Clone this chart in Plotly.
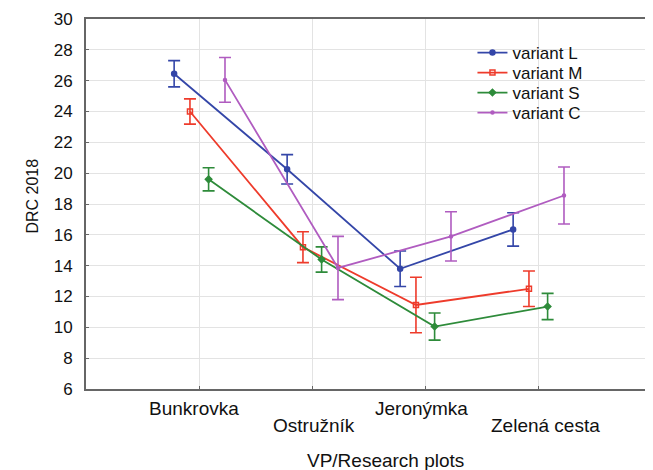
import plotly.graph_objects as go

categories = ["Bunkrovka", "Ostružník", "Jeronýmka", "Zelená cesta"]
cat_pos = [1, 2, 3, 4]
label_row = [0, 1, 0, 1]        # staggered label rows
label_nudge = [-5, 2, -4, 7]    # small horizontal nudges of the labels (px)

series_names = ["variant L", "variant M", "variant S", "variant C"]
offsets = [-0.22, -0.08, 0.085, 0.23]
means_L = [26.45, 20.25, 13.8, 16.35]
err_L = [0.85, 0.95, 1.15, 1.08]
means_M = [24.0, 15.2, 11.45, 12.5]
err_M = [0.82, 1.0, 1.8, 1.15]
means_S = [19.6, 14.4, 10.05, 11.35]
err_S = [0.75, 0.82, 0.88, 0.85]
means_C = [26.05, 13.85, 15.9, 18.55]
err_C = [1.45, 2.05, 1.6, 1.85]

y_ticks = list(range(6, 31, 2))

means = [means_L, means_M, means_S, means_C]
errs = [err_L, err_M, err_S, err_C]
colors = ["#3446a8", "#ee3b2b", "#2e8b3a", "#b05cc0"]
symbols = ["circle", "square-open", "diamond", "circle"]
msizes = [5, 5, 5, 3]
legend_ids = ["legend", "legend2", "legend3", "legend4"]

FONT = "Liberation Sans, Arial, sans-serif"

fig = go.Figure()
for name, off, m, e, c, s, ms, lg in zip(series_names, offsets, means, errs, colors,
                                         symbols, msizes, legend_ids):
    fig.add_trace(go.Scatter(
        x=[p + off for p in cat_pos], y=m, name=name, legend=lg,
        mode="lines+markers",
        line=dict(color=c, width=1.8),
        marker=dict(color=c, symbol=s, size=ms, line=dict(color=c, width=1.5)),
        error_y=dict(type="data", array=e, visible=True, color=c, thickness=1.6, width=6),
    ))

# staggered category labels
for cat, pos, row, nudge in zip(categories, cat_pos, label_row, label_nudge):
    fig.add_annotation(x=pos, xref="x", y=0, yref="paper", text=cat,
                       showarrow=False, yanchor="middle", xanchor="center",
                       xshift=nudge, yshift=-(19 + 17 * row),
                       font=dict(size=19, family=FONT, color="#111"))

# axis titles
fig.add_annotation(x=0.53, xref="paper", y=0, yref="paper", text="VP/Research plots",
                   showarrow=False, yanchor="middle", xanchor="center", yshift=-71,
                   font=dict(size=19, family=FONT, color="#111"))
fig.add_annotation(x=0, xref="paper", y=0.52, yref="paper", text="DRC 2018",
                   showarrow=False, textangle=-90, xanchor="center", yanchor="middle",
                   xshift=-53, font=dict(size=16, family=FONT, color="#111"))

legend_style = dict(x=0.684, xanchor="left", yanchor="middle",
                    bgcolor="rgba(0,0,0,0)", font=dict(size=17, family=FONT, color="#111"),
                    itemwidth=30)
legend_rows_y = [0.908, 0.854, 0.80, 0.746]

# page body has an 8px margin, so the figure is 8px smaller than the window
fig.update_layout(
    width=645, height=462,
    margin=dict(l=78, r=2, t=11, b=81, autoexpand=False),
    paper_bgcolor="white", plot_bgcolor="white",
    font=dict(family=FONT, size=16, color="#111"),
    showlegend=True,
    legend=dict(y=legend_rows_y[0], **legend_style),
    legend2=dict(y=legend_rows_y[1], **legend_style),
    legend3=dict(y=legend_rows_y[2], **legend_style),
    legend4=dict(y=legend_rows_y[3], **legend_style),
)
fig.update_xaxes(
    range=[0, 5], tickvals=cat_pos, showticklabels=False,
    showgrid=True, gridcolor="#e3e3e3", gridwidth=1,
    showline=True, linecolor="#666", linewidth=2, mirror=True,
    ticks="inside", ticklen=3, tickcolor="#666", zeroline=False, automargin=False,
)
fig.update_yaxes(
    range=[6, 30], tickvals=y_ticks,
    showgrid=True, gridcolor="#e3e3e3", gridwidth=1,
    showline=True, linecolor="#666", linewidth=2, mirror=True,
    ticks="inside", ticklen=3, tickcolor="#666", ticklabelstandoff=8,
    tickfont=dict(size=17), zeroline=False, automargin=False,
)

fig.write_html("out.html")
